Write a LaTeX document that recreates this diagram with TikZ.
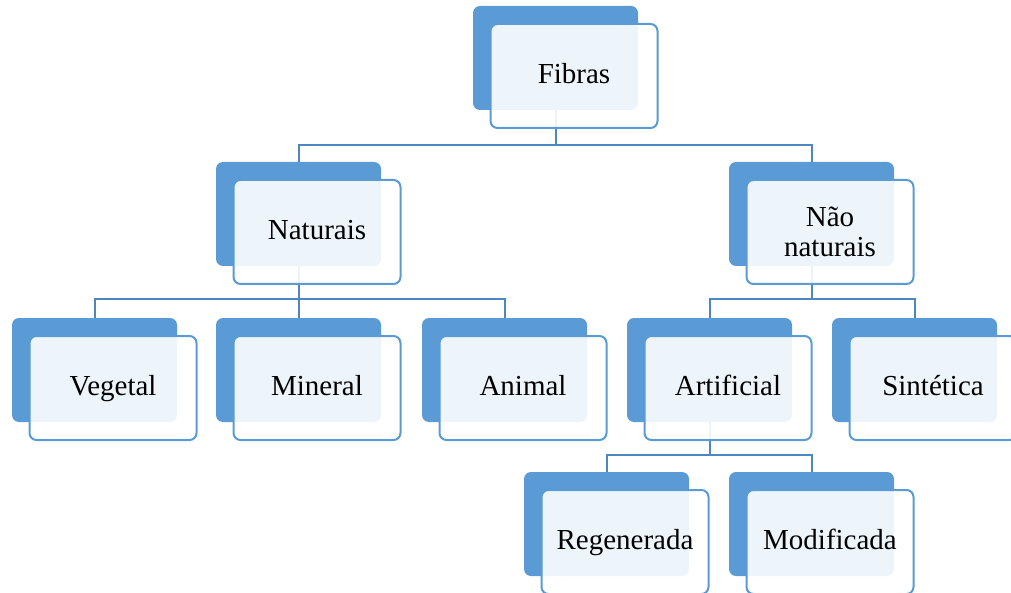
\documentclass[tikz,border=0pt]{standalone}
\usepackage{fontspec}
\setmainfont{Liberation Serif}
\definecolor{backblue}{HTML}{5B9BD5}
\definecolor{edgeblue}{HTML}{5B9BD5}
\definecolor{connblue}{HTML}{4E86C2}
\tikzset{
  backbox/.style={rectangle, rounded corners=7pt, fill=backblue, draw=none,
    minimum width=165pt, minimum height=104pt, inner sep=0pt},
  frontbase/.style={rectangle, rounded corners=7pt, fill=white, fill opacity=0.9,
    text opacity=1, draw=edgeblue, draw opacity=1, line width=2pt,
    minimum width=167pt, minimum height=104pt, inner sep=2pt, align=center,
    font=\fontsize{29}{30}\selectfont},
  frontbox/.style={frontbase, text height=20pt, text depth=4.8pt},
  conn/.style={draw=connblue, line width=2pt},
}
\begin{document}
\begin{tikzpicture}[x=1pt,y=-1pt]
\useasboundingbox (0,0) rectangle (1011,593);
% back boxes
\node[backbox] (fibrasb) at (555.5,58) {};
\node[backbox] (natb) at (298.5,214) {};
\node[backbox] (nnatb) at (811.5,214) {};
\node[backbox] (vegb) at (94.5,370) {};
\node[backbox] (minb) at (298.5,370) {};
\node[backbox] (anib) at (504.5,370) {};
\node[backbox] (artb) at (709.5,370) {};
\node[backbox] (sinb) at (914.5,370) {};
\node[backbox] (regb) at (606.5,524) {};
\node[backbox] (modb) at (811.5,524) {};
% bus points
\coordinate (bus1) at (555.5,145);
\coordinate (bus2) at (298.5,299);
\coordinate (bus3) at (811.5,299);
\coordinate (bus4) at (709.5,455);
% connectors
\draw[conn] (fibrasb.south) -- (bus1);
\draw[conn] (natb.north) |- (bus1) -| (nnatb.north);
\draw[conn] (natb.south) -- (bus2);
\draw[conn] (vegb.north) |- (bus2) -| (anib.north);
\draw[conn] (minb.north) -- (bus2);
\draw[conn] (nnatb.south) -- (bus3);
\draw[conn] (artb.north) |- (bus3) -| (sinb.north);
\draw[conn] (artb.south) -- (bus4);
\draw[conn] (regb.north) |- (bus4) -| (modb.north);
% front boxes
\node[frontbox] (fibras) at ([shift={(18.5,18)}]fibrasb.center) {Fibras};
\node[frontbox] (nat) at ([shift={(18.5,18)}]natb.center) {Naturais};
\node[frontbase] (nnat) at ([shift={(18.5,18)}]nnatb.center) {Não\\naturais};
\node[frontbox] (veg) at ([shift={(18.5,18)}]vegb.center) {Vegetal};
\node[frontbox] (min) at ([shift={(18.5,18)}]minb.center) {Mineral};
\node[frontbox] (ani) at ([shift={(18.5,18)}]anib.center) {Animal};
\node[frontbox] (art) at ([shift={(18.5,18)}]artb.center) {Artificial};
\node[frontbox] (sin) at ([shift={(18.5,18)}]sinb.center) {Sintética};
\node[frontbox] (reg) at ([shift={(18.5,18)}]regb.center) {Regenerada};
\node[frontbox] (mod) at ([shift={(18.5,18)}]modb.center) {Modificada};
\end{tikzpicture}
\end{document}
